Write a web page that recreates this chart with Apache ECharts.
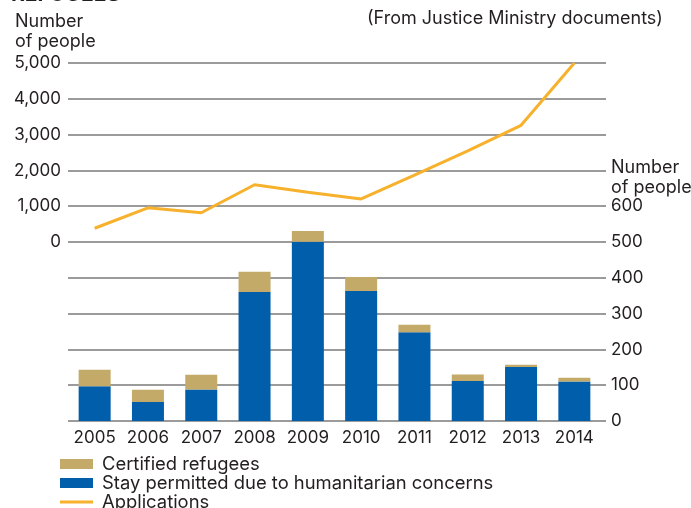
<!DOCTYPE html>
<html>
<head>
<meta charset="utf-8">
<script src="https://cdn.jsdelivr.net/npm/echarts@6/dist/echarts.min.js"></script>
<style>
  html, body { margin: 0; padding: 0; background: #ffffff; }
  #chart { width: 691px; height: 508px; }
</style>
</head>
<body>
<div id="chart"></div>
<script>
// Refugee recognition in Japan, 2005-2014
const years = ['2005', '2006', '2007', '2008', '2009', '2010', '2011', '2012', '2013', '2014'];
const certified = [46, 34, 41, 57, 30, 39, 21, 18, 6, 11];
const humanitarian = [97, 53, 88, 360, 501, 363, 248, 112, 151, 110];
const applications = [384, 954, 816, 1599, 1388, 1202, 1867, 2545, 3260, 5000];

const FONT = 'Inter, "Liberation Sans", sans-serif';
const TEXT = '#231f20';
const GRID = '#7a7a7a';
const TAN = '#c4aa69';
const BLUE = '#005eaa';
const ORANGE = '#f7b12c';

// thin horizontal stroke centred in the legend swatch box
const LINE_ICON = 'path://M0,0M0,10M0,3.5H33V6.5H0Z';

const chart = echarts.init(document.getElementById('chart'));

chart.setOption({
  animation: false,
  textStyle: { fontFamily: FONT, color: TEXT },
  grid: { left: 68, right: 90, top: 63, bottom: 87 },
  legend: {
    orient: 'vertical',
    left: 60,
    top: 455,
    height: 120,
    padding: 0,
    itemWidth: 33,
    itemHeight: 10,
    itemGap: 1,
    data: [
      { name: 'Certified refugees', icon: 'rect' },
      { name: 'Stay permitted due to humanitarian concerns', icon: 'rect' },
      { name: 'Applications', icon: LINE_ICON }
    ],
    textStyle: { fontFamily: FONT, fontSize: 18.4, color: TEXT, padding: [0, 0, 0, 4] }
  },
  xAxis: {
    type: 'category',
    data: years,
    axisLine: { show: false },
    axisTick: { show: false },
    axisLabel: { fontFamily: FONT, fontSize: 17, color: TEXT, margin: 8, interval: 0 }
  },
  yAxis: [
    {
      // applications scale occupies the upper half of the plot
      type: 'value',
      position: 'left',
      min: -5000,
      max: 5000,
      interval: 1000,
      axisLine: { show: false },
      axisTick: { show: false },
      axisLabel: {
        fontFamily: FONT, fontSize: 17, color: TEXT, margin: 7,
        formatter: v => (v >= 0 ? v.toLocaleString('en-US') : '')
      },
      splitLine: { show: true, lineStyle: { color: GRID, width: 1.5 } }
    },
    {
      // people granted status, lower part of the plot
      type: 'value',
      position: 'right',
      min: 0,
      max: 1000,
      interval: 100,
      axisLine: { show: false },
      axisTick: { show: true, length: 5, lineStyle: { color: GRID, width: 1.5 } },
      axisLabel: {
        fontFamily: FONT, fontSize: 17, color: TEXT, margin: 10,
        formatter: v => (v <= 600 ? String(v) : '')
      },
      splitLine: { show: false }
    }
  ],
  graphic: [
    {
      type: 'text', left: 11, top: -16, silent: true,
      style: { text: 'REFUGEES', fontFamily: FONT, fontSize: 21, fontWeight: 'bold', fill: TEXT }
    },
    {
      type: 'text', left: 15, top: 12, silent: true,
      style: { text: 'Number\nof people', fontFamily: FONT, fontSize: 18, lineHeight: 20, fill: TEXT }
    },
    {
      type: 'text', left: 367, top: 10, silent: true,
      style: { text: '(From Justice Ministry documents)', fontFamily: FONT, fontSize: 18, fill: TEXT }
    },
    {
      type: 'text', left: 611, top: 158, silent: true,
      style: { text: 'Number\nof people', fontFamily: FONT, fontSize: 18, lineHeight: 20, fill: TEXT }
    }
  ],
  series: [
    {
      name: 'Stay permitted due to humanitarian concerns',
      type: 'bar',
      yAxisIndex: 1,
      stack: 'granted',
      barWidth: 32,
      itemStyle: { color: BLUE },
      data: humanitarian
    },
    {
      name: 'Certified refugees',
      type: 'bar',
      yAxisIndex: 1,
      stack: 'granted',
      barWidth: 32,
      itemStyle: { color: TAN },
      data: certified
    },
    {
      name: 'Applications',
      type: 'line',
      yAxisIndex: 0,
      symbol: 'none',
      lineStyle: { color: ORANGE, width: 3 },
      itemStyle: { color: ORANGE },
      data: applications
    }
  ]
});
</script>
</body>
</html>
